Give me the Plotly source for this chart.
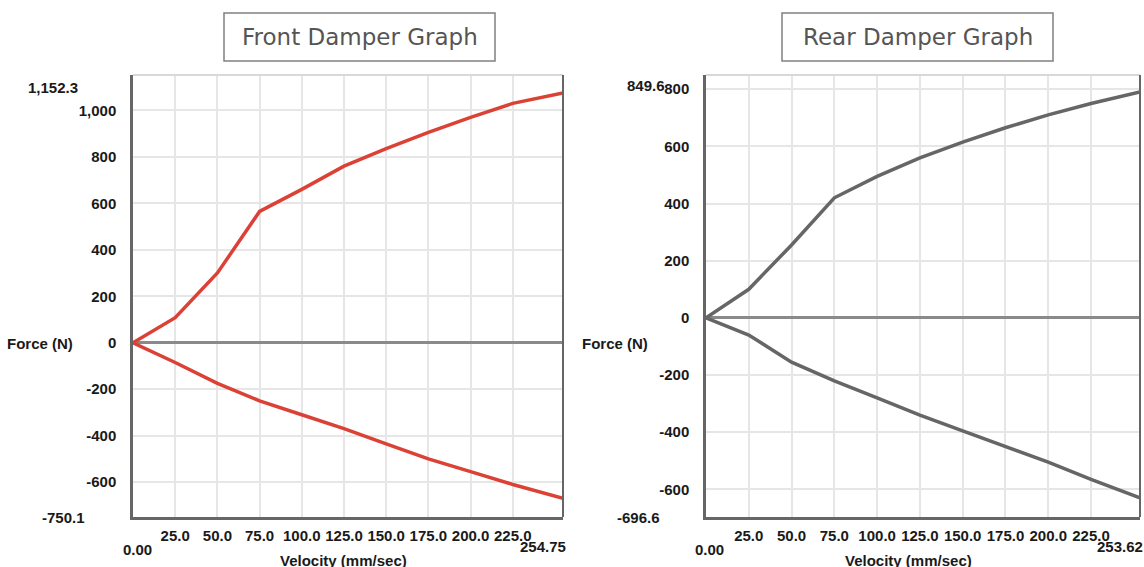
import plotly.graph_objects as go

# ---------------- data ----------------
velocity_front = [0, 25, 50, 75, 100, 125, 150, 175, 200, 225, 254.75]
front_bump = [0, 108, 300, 565, 660, 760, 835, 905, 970, 1030, 1075]
front_rebound = [0, -85, -175, -250, -310, -370, -435, -500, -555, -610, -670]

velocity_rear = [0, 25, 50, 75, 100, 125, 150, 175, 200, 225, 253.62]
rear_bump = [0, 100, 255, 420, 495, 560, 615, 665, 710, 750, 790]
rear_rebound = [0, -60, -155, -220, -280, -340, -395, -450, -505, -565, -630]

x_ticks = [25, 50, 75, 100, 125, 150, 175, 200, 225]
x_tick_text = ["25.0", "50.0", "75.0", "100.0", "125.0", "150.0", "175.0", "200.0", "225.0"]
front_y_ticks = [1000, 800, 600, 400, 200, 0, -200, -400, -600]
front_y_text = ["1,000", "800", "600", "400", "200", "0", "-200", "-400", "-600"]
rear_y_ticks = [800, 600, 400, 200, 0, -200, -400, -600]
rear_y_text = ["800", "600", "400", "200", "0", "-200", "-400", "-600"]

front_range = [-750.1, 1152.3]
rear_range = [-696.6, 849.6]
front_xmax = 254.75
rear_xmax = 253.62

# ---------------- layout ----------------
W, H = 1144, 567
def px(x):
    return x / W
def py(y):
    return 1 - y / H

fx0, fx1 = 133, 563
rx0, rx1 = 706, 1140
yt, yb = 75, 517

tick_font = dict(family="Liberation Sans Narrow, Arial Narrow, Liberation Sans, Arial", size=15,
                 color="#1a1a1a", weight="bold")
title_font = dict(family="DejaVu Sans, Verdana, sans-serif", size=23, color="#555555")

fig = go.Figure()
fig.add_trace(go.Scatter(x=velocity_front, y=front_bump, mode="lines",
                         line=dict(color="#dc4136", width=3.5), xaxis="x", yaxis="y",
                         showlegend=False))
fig.add_trace(go.Scatter(x=velocity_front, y=front_rebound, mode="lines",
                         line=dict(color="#dc4136", width=3.5), xaxis="x", yaxis="y",
                         showlegend=False))
fig.add_trace(go.Scatter(x=velocity_rear, y=rear_bump, mode="lines",
                         line=dict(color="#666666", width=3.5), xaxis="x2", yaxis="y2",
                         showlegend=False))
fig.add_trace(go.Scatter(x=velocity_rear, y=rear_rebound, mode="lines",
                         line=dict(color="#666666", width=3.5), xaxis="x2", yaxis="y2",
                         showlegend=False))

common_x = dict(tickvals=x_ticks, ticktext=x_tick_text, showgrid=True, gridcolor="#e6e6e6",
                gridwidth=1.5, zeroline=False, showline=True, linecolor="#666666", linewidth=2.5,
                ticks="", tickfont=tick_font, ticklabelstandoff=3, fixedrange=True)
common_y = dict(showgrid=True, gridcolor="#e6e6e6", gridwidth=1.5, zeroline=True,
                zerolinecolor="#8a8a8a", zerolinewidth=2.5, showline=True, linecolor="#666666",
                linewidth=2.5, ticks="", tickfont=tick_font, ticklabelstandoff=11, fixedrange=True)

fig.update_layout(
    width=W, height=H,
    margin=dict(l=0, r=0, t=0, b=0),
    paper_bgcolor="white", plot_bgcolor="white",
    xaxis=dict(domain=[px(fx0), px(fx1)], range=[0, front_xmax], anchor="y", **common_x),
    yaxis=dict(domain=[py(yb), py(yt)], range=front_range, anchor="x",
               tickvals=front_y_ticks, ticktext=front_y_text, **common_y),
    xaxis2=dict(domain=[px(rx0), px(rx1)], range=[0, rear_xmax], anchor="y2", **common_x),
    yaxis2=dict(domain=[py(yb), py(yt)], range=rear_range, anchor="x2",
                tickvals=rear_y_ticks, ticktext=rear_y_text, **common_y),
)

shapes = []
# title boxes
shapes.append(dict(type="rect", xref="paper", yref="paper", x0=px(224), x1=px(495),
                   y0=py(61), y1=py(13), line=dict(color="#808080", width=1.5)))
shapes.append(dict(type="rect", xref="paper", yref="paper", x0=px(782), x1=px(1053),
                   y0=py(61), y1=py(13), line=dict(color="#808080", width=1.5)))
# top borders (light) and right borders (dark)
for a, b in [(fx0, fx1), (rx0, rx1)]:
    shapes.append(dict(type="line", xref="paper", yref="paper", x0=px(a), x1=px(b),
                       y0=py(yt), y1=py(yt), line=dict(color="#d8d8d8", width=2)))
    shapes.append(dict(type="line", xref="paper", yref="paper", x0=px(b), x1=px(b),
                       y0=py(yb), y1=py(yt), line=dict(color="#666666", width=2)))
fig.update_layout(shapes=shapes)

ann = []
ann.append(dict(text="Front Damper Graph", x=px(359.5), y=py(37), xref="paper", yref="paper",
                showarrow=False, font=title_font, xanchor="center", yanchor="middle"))
ann.append(dict(text="Rear Damper Graph", x=px(917.5), y=py(37), xref="paper", yref="paper",
                showarrow=False, font=title_font, xanchor="center", yanchor="middle"))
# axis titles
for x, y in [(40, 343), (615, 343)]:
    ann.append(dict(text="Force (N)", x=px(x), y=py(y), xref="paper", yref="paper",
                    showarrow=False, font=tick_font, xanchor="center", yanchor="middle"))
for x, y in [(343, 560), (908, 560)]:
    ann.append(dict(text="Velocity (mm/sec)", x=px(x), y=py(y), xref="paper", yref="paper",
                    showarrow=False, font=tick_font, xanchor="center", yanchor="middle"))
# range-end labels
ann.append(dict(text="1,152.3", x=px(80), y=front_range[1], xref="paper", yref="y",
                showarrow=False, font=tick_font, xanchor="right", yanchor="top", yshift=-2))
ann.append(dict(text="-750.1", x=px(87), y=front_range[0], xref="paper", yref="y",
                showarrow=False, font=tick_font, xanchor="right", yanchor="middle"))
ann.append(dict(text="849.6", x=px(667), y=rear_range[1], xref="paper", yref="y2",
                showarrow=False, font=tick_font, xanchor="right", yanchor="top", yshift=0))
ann.append(dict(text="-696.6", x=px(662), y=rear_range[0], xref="paper", yref="y2",
                showarrow=False, font=tick_font, xanchor="right", yanchor="middle"))
ann.append(dict(text="0.00", x=0, y=py(549), xref="x", yref="paper",
                showarrow=False, font=tick_font, xanchor="center", yanchor="middle", xshift=4))
ann.append(dict(text="0.00", x=0, y=py(549), xref="x2", yref="paper",
                showarrow=False, font=tick_font, xanchor="center", yanchor="middle", xshift=4))
ann.append(dict(text="254.75", x=front_xmax, y=py(546), xref="x", yref="paper",
                showarrow=False, font=tick_font, xanchor="center", yanchor="middle", xshift=-20))
ann.append(dict(text="253.62", x=rear_xmax, y=py(546), xref="x2", yref="paper",
                showarrow=False, font=tick_font, xanchor="center", yanchor="middle", xshift=-20))
fig.update_layout(annotations=ann)

fig.write_html("out.html", config={"displayModeBar": False},
               post_script="document.body.style.margin='0';document.body.style.padding='0';"
                           "document.body.style.overflow='hidden';")
